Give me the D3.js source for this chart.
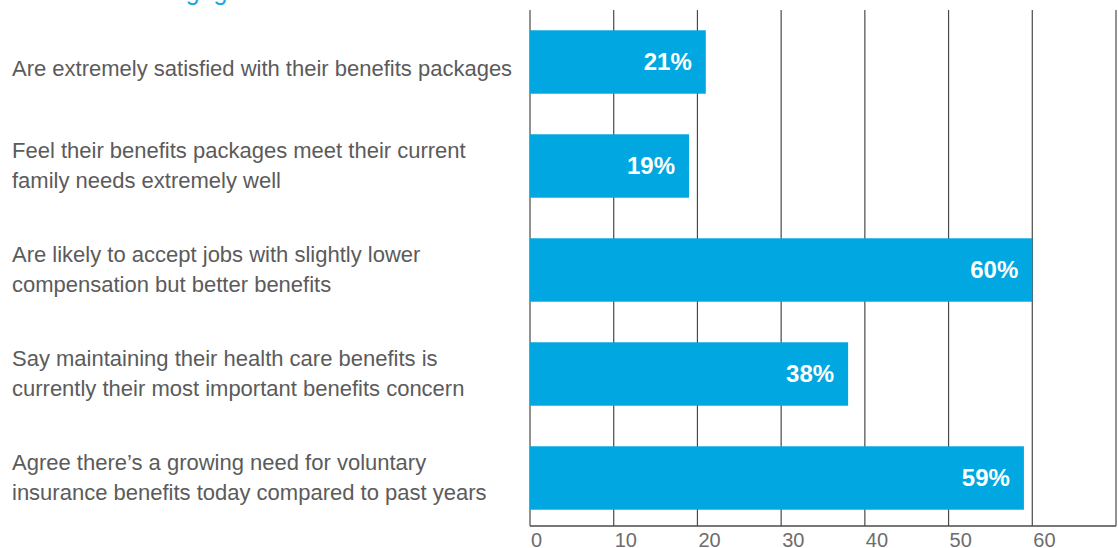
<!DOCTYPE html>
<html>
<head>
<meta charset="utf-8">
<script src="https://cdn.jsdelivr.net/npm/d3@7"></script>
<style>
  body { margin: 0; background: #fff; }
  svg { display: block; }
  .label { font-family: "Liberation Sans", Arial, sans-serif; fill: #5b5b5b; }
  .tick-label { font-family: "Liberation Sans", Arial, sans-serif; fill: #6d6d6d; }
  .value { font-family: "Liberation Sans", Arial, sans-serif; font-weight: bold; fill: #fff; }
</style>
</head>
<body>
<div id="chart"></div>
<script>
// chart data
var title = "Benefits and engagement";
var categories = [
  ["Are extremely satisfied with their benefits packages"],
  ["Feel their benefits packages meet their current", "family needs extremely well"],
  ["Are likely to accept jobs with slightly lower", "compensation but better benefits"],
  ["Say maintaining their health care benefits is", "currently their most important benefits concern"],
  ["Agree there\u2019s a growing need for voluntary", "insurance benefits today compared to past years"]
];
var values = [21, 19, 60, 38, 59];
var tickValues = [0, 10, 20, 30, 40, 50, 60];

var width = 1118, height = 548;
var plot = {left: 530, right: 1116, top: 10, bottom: 526};

var svg = d3.select("#chart").append("svg")
  .attr("width", width)
  .attr("height", height);

var x = d3.scaleLinear().domain([0, 70]).range([plot.left, plot.right]);
var y = d3.scaleBand().domain(d3.range(values.length)).range([10, 530]).paddingInner(0.39).paddingOuter(0.195);

// title, mostly above the top edge
svg.append("text")
  .attr("x", 12)
  .attr("y", 0)
  .style("font-family", "Liberation Sans, Arial, sans-serif")
  .style("font-size", "25px")
  .style("fill", "#1ba7e1")
  .text(title);

// gridlines
svg.append("g")
  .selectAll("line")
  .data(d3.range(0, 71, 10))
  .enter()
  .append("line")
  .attr("x1", function(d) { return x(d); })
  .attr("x2", function(d) { return x(d); })
  .attr("y1", plot.top)
  .attr("y2", plot.bottom)
  .style("stroke", "#4a4a4a")
  .style("stroke-width", 1.2);

// bottom axis line
svg.append("line")
  .attr("x1", x(0))
  .attr("x2", x(70))
  .attr("y1", plot.bottom)
  .attr("y2", plot.bottom)
  .style("stroke", "#4a4a4a")
  .style("stroke-width", 1.5);

svg.append("g")
  .selectAll("text")
  .data(tickValues)
  .enter()
  .append("text")
  .attr("class", "tick-label")
  .attr("x", function(d) { return x(d) + 1; })
  .attr("y", 547)
  .style("font-size", "20px")
  .text(function(d) { return d; });

// bars
svg.append("g")
  .selectAll("rect")
  .data(values)
  .enter()
  .append("rect")
  .attr("x", x(0))
  .attr("y", function(d, i) { return y(i); })
  .attr("width", function(d) { return x(d) - x(0); })
  .attr("height", y.bandwidth())
  .style("fill", "#00a7e0");

svg.append("g")
  .selectAll("text")
  .data(values)
  .enter()
  .append("text")
  .attr("class", "value")
  .attr("x", function(d) { return x(d) - 14; })
  .attr("y", function(d, i) { return y(i) + y.bandwidth() / 2 + 8; })
  .attr("text-anchor", "end")
  .style("font-size", "24px")
  .text(function(d) { return d + "%"; });

// category labels
var labels = svg.append("g")
  .selectAll("text")
  .data(categories)
  .enter()
  .append("text")
  .attr("class", "label")
  .style("font-size", "22px");

labels.each(function(lines, i) {
  var cy = y(i) + y.bandwidth() / 2;
  var first = lines.length == 1 ? cy + 14 : cy - 8;
  d3.select(this).selectAll("tspan")
    .data(lines)
    .enter()
    .append("tspan")
    .attr("x", 12)
    .attr("y", function(d, j) { return first + j * 30; })
    .text(function(d) { return d; });
});
</script>
</body>
</html>
